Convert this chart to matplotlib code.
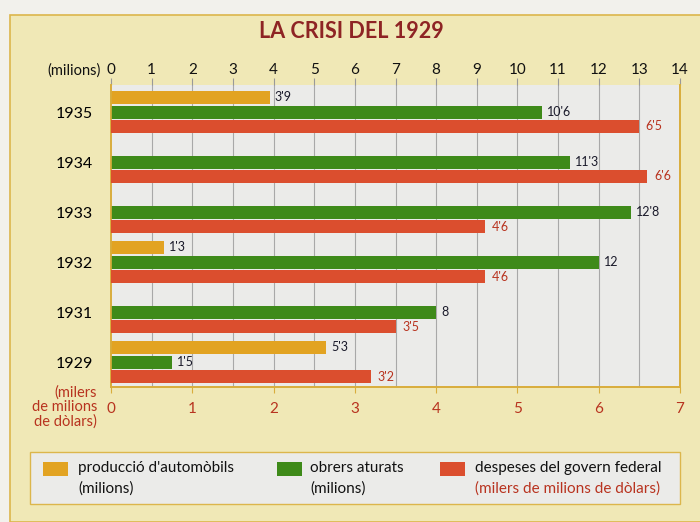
import numpy as np
import matplotlib.pyplot as plt
from matplotlib.patches import Rectangle

# Dades (milions / milers de milions de dòlars)
anys = ['1935', '1934', '1933', '1932', '1931', '1929']
automobils = [3.9, None, None, 1.3, None, 5.3]   # milions
aturats = [10.6, 11.3, 12.8, 12.0, 8.0, 1.5]     # milions
despeses = [6.5, 6.6, 4.6, 4.6, 3.5, 3.2]        # milers de milions de dòlars

groc = '#e2a322'
verd = '#3e8a19'
vermell = '#db4e2e'
text_vermell = '#b8331f'
fons = '#f0e8b6'

plt.rcParams['font.family'] = ['Lato', 'DejaVu Sans']

fig = plt.figure(figsize=(7, 5.22), dpi=100)
fig.patch.set_facecolor('#f2f1ec')

# marc groc
fig.patches.append(Rectangle((10 / 700, 0), 1.0, 1 - 15 / 522, transform=fig.transFigure,
                             facecolor=fons, edgecolor='#dcb64c', lw=1.2, zorder=-5))

ax = fig.add_axes([111 / 700, 1 - 387 / 522, 569 / 700, 302 / 522])
ax.set_facecolor('#ebebe9')
ax2 = ax.twiny()

y = np.arange(len(anys))
h = 0.26

# barres
for i in range(len(anys)):
    if automobils[i] is not None:
        ax.barh(y[i] - 0.3, automobils[i], height=h, color=groc, zorder=3)
        ax.text(automobils[i] + 0.12, y[i] - 0.3, f"{automobils[i]:g}".replace('.', "'"),
                va='center', ha='left', fontsize=9, color='#1a1a2a')
    ax.barh(y[i], aturats[i], height=h, color=verd, zorder=3)
    ax.text(aturats[i] + 0.12, y[i], f"{aturats[i]:g}".replace('.', "'"),
            va='center', ha='left', fontsize=9, color='#1a1a2a')
    ax2.barh(y[i] + 0.29, despeses[i], height=h, color=vermell, zorder=3)
    ax2.text(despeses[i] + 0.08, y[i] + 0.29, f"{despeses[i]:g}".replace('.', "'"),
             va='center', ha='left', fontsize=9, color=text_vermell)

ax.set_xlim(0, 14)
ax2.set_xlim(0, 7)
ax.set_ylim(5.5, -0.54)

for v in range(1, 14):
    ax.axvline(v, color='#a8a8a8', lw=0.8, zorder=1)

# eix superior (milions)
ax.xaxis.tick_top()
ax.set_xticks(range(0, 15))
ax.tick_params(axis='x', top=True, bottom=False, length=5, color='#999999',
               labelsize=11, pad=1, labelcolor='#111111')

# eix inferior (milers de milions de dòlars)
ax2.xaxis.tick_bottom()
ax2.xaxis.set_label_position('bottom')
ax2.set_xticks(range(0, 8))
ax2.tick_params(axis='x', bottom=True, top=False, length=4, color='#d9ad3c',
                labelsize=11, pad=7, labelcolor=text_vermell)

ax.set_yticks(y)
ax.set_yticklabels(anys, fontsize=11.5)
ax.tick_params(axis='y', length=0, pad=13)

for a in (ax, ax2):
    for s in ['top']:
        a.spines[s].set_visible(False)
    for s in ['left', 'bottom', 'right']:
        a.spines[s].set_color('#d9ad3c')
        a.spines[s].set_linewidth(1.2)

fig.text(351 / 700, 1 - 31 / 522, 'LA CRISI DEL 1929', ha='center', va='center',
         fontsize=15.5, fontweight='bold', color='#8e2424')
fig.text(74 / 700, 1 - 71 / 522, '(milions)', ha='center', va='center', fontsize=10.5,
         color='#111111')
fig.text(97 / 700, 1 - 407 / 522, '(milers\nde milions\nde dòlars)', ha='right', va='center',
         fontsize=10.5, color=text_vermell, linespacing=1.05)

# llegenda
fig.patches.append(Rectangle((30 / 700, 1 - 504 / 522), 650 / 700, 52 / 522,
                             transform=fig.transFigure, facecolor='#ebebe9',
                             edgecolor='#dcb64c', lw=1.0, zorder=1))
items = [(groc, 43, 78, "producció d'automòbils", '(milions)', '#111111'),
         (verd, 277, 310, 'obrers aturats', '(milions)', '#111111'),
         (vermell, 440, 475, 'despeses del govern federal',
          '(milers de milions de dòlars)', text_vermell)]
for col, xs, xt, l1, l2, c2 in items:
    fig.patches.append(Rectangle((xs / 700, 1 - 476 / 522), 25 / 700, 14 / 522,
                                 transform=fig.transFigure, facecolor=col, zorder=2))
    fig.text(xt / 700, 1 - 468 / 522, l1, ha='left', va='center', fontsize=11, color='#111111')
    fig.text(xt / 700, 1 - 489 / 522, l2, ha='left', va='center', fontsize=11, color=c2)

plt.savefig('out.png', dpi=100, facecolor=fig.get_facecolor())
